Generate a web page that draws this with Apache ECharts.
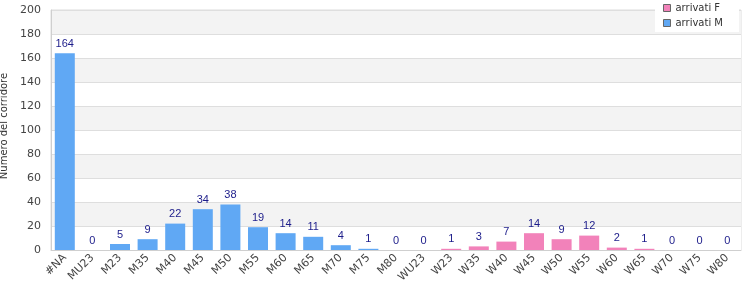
<!DOCTYPE html>
<html>
<head>
<meta charset="utf-8">
<script src="https://cdn.jsdelivr.net/npm/echarts@6/dist/echarts.min.js"></script>
<style>
    html, body { margin: 0; padding: 0; background: #fff; }
    #main { width: 750px; height: 300px; }
</style>
</head>
<body>
<div id="main"></div>
<script>
var categorie = ['#NA', 'MU23', 'M23', 'M35', 'M40', 'M45', 'M50', 'M55', 'M60', 'M65', 'M70', 'M75', 'M80',
    'WU23', 'W23', 'W35', 'W40', 'W45', 'W50', 'W55', 'W60', 'W65', 'W70', 'W75', 'W80'];
var arrivatiM = [164, 0, 5, 9, 22, 34, 38, 19, 14, 11, 4, 1, 0, 0, '-', '-', '-', '-', '-', '-', '-', '-', '-', '-', '-'];
var arrivatiF = ['-', '-', '-', '-', '-', '-', '-', '-', '-', '-', '-', '-', '-', '-', 1, 3, 7, 14, 9, 12, 2, 1, 0, 0, 0];

var myChart = echarts.init(document.getElementById('main'));

// etichette dei valori sopra le barre
var etichetta = {
    show: true,
    position: 'top',
    color: '#1c1c8a',
    fontSize: 11,
    fontFamily: 'Liberation Sans',
    distance: 4
};

var option = {
    animation: false,
    textStyle: { fontFamily: 'DejaVu Sans' },
    grid: {
        left: 51,
        right: 9,
        top: 10,
        bottom: 50,
        containLabel: false,
        outerBoundsMode: 'none',
        show: true,
        borderColor: '#dcdcdc',
        borderWidth: 1
    },
    legend: {
        orient: 'vertical',
        right: 11,
        top: 0,
        backgroundColor: '#fff',
        padding: [3, 16, 4, 8],
        itemGap: 5,
        itemWidth: 7,
        itemHeight: 7,
        icon: 'rect',
        textStyle: { color: '#333', fontSize: 10, fontFamily: 'DejaVu Sans' },
        data: [
            { name: 'arrivati F', itemStyle: { borderColor: '#666', borderWidth: 1 } },
            { name: 'arrivati M', itemStyle: { borderColor: '#666', borderWidth: 1 } }
        ]
    },
    xAxis: {
        type: 'category',
        data: categorie,
        axisLine: { lineStyle: { color: '#cfcfcf' } },
        axisTick: { show: false },
        axisLabel: {
            interval: 0,
            rotate: 45,
            color: '#444',
            fontSize: 11,
            margin: 6
        }
    },
    yAxis: {
        type: 'value',
        min: 0,
        max: 200,
        interval: 20,
        name: 'Numero del corridore',
        nameLocation: 'middle',
        nameGap: 35,
        nameTextStyle: { color: '#333', fontSize: 10, padding: [0, 0, 0, 8] },
        axisLine: { show: true, lineStyle: { color: '#cfcfcf' } },
        axisTick: { show: false },
        axisLabel: { color: '#444', fontSize: 11, margin: 10 },
        splitLine: { show: true, lineStyle: { color: '#dedede' } },
        splitArea: { show: true, areaStyle: { color: ['#ffffff', '#f3f3f3'] } }
    },
    series: [
        {
            name: 'arrivati M',
            type: 'bar',
            stack: 'tot',
            barWidth: 20,
            itemStyle: { color: '#60a8f4' },
            label: etichetta,
            data: arrivatiM
        },
        {
            name: 'arrivati F',
            type: 'bar',
            stack: 'tot',
            barWidth: 20,
            itemStyle: { color: '#f282ba' },
            label: etichetta,
            data: arrivatiF
        }
    ]
};

myChart.setOption(option);
</script>
</body>
</html>
